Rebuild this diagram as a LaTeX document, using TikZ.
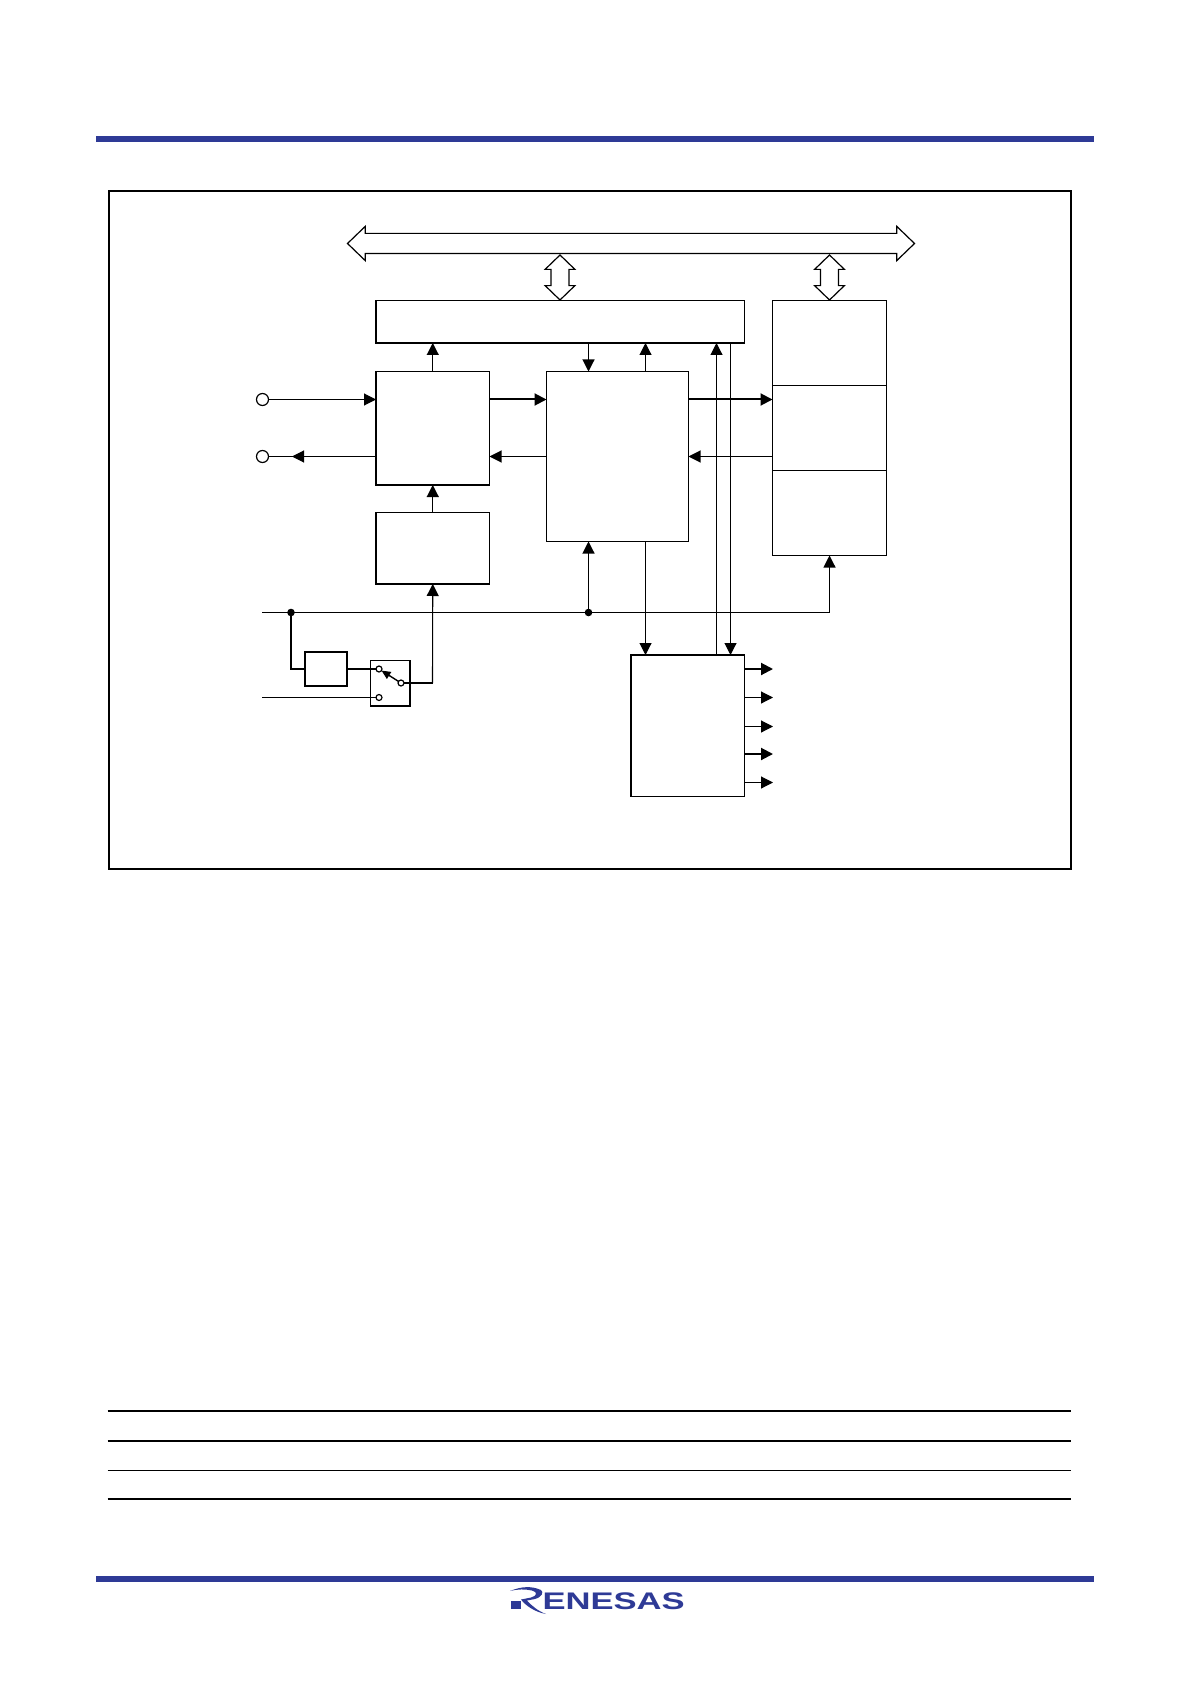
\documentclass[tikz,border=0pt]{standalone}
\usepackage{fontspec}
\setmainfont{Liberation Sans}
\usetikzlibrary{arrows.meta,shapes.arrows}
\definecolor{bandblue}{HTML}{2E3A96}
\tikzset{
  main/.style = {draw, rectangle, inner sep=0pt, outer sep=0pt, anchor=north west, line width=0.6pt},
  arr/.style = {-{Triangle[length=6pt,width=6pt]}, line width=0.55pt},
  heavy/.style = {line width=1pt},
  wire/.style = {line width=0.55pt},
  pin/.style = {draw, circle, fill=white, inner sep=0pt, outer sep=0pt, minimum size=6pt, line width=0.6pt},
  contact/.style = {draw, circle, fill=white, inner sep=0pt, outer sep=0pt, minimum size=3pt, line width=0.6pt},
  dot/.style = {fill=black, circle, inner sep=0pt, outer sep=0pt, minimum size=3.8pt},
  bus/.style = {draw, double arrow, inner xsep=0pt, inner ysep=4.75pt, outer sep=0pt, minimum height=283.5pt, double arrow head extend=3.5pt, double arrow tip angle=88, line width=0.6pt},
  port/.style = {draw, double arrow, inner xsep=0pt, inner ysep=4.2pt, outer sep=0pt, minimum height=22.5pt, double arrow head extend=2.95pt, double arrow tip angle=92, line width=0.6pt},
  band/.style = {fill=bandblue, rectangle, inner sep=0pt, minimum width=499pt, minimum height=3pt},
  rule/.style = {line width=0.9pt}
}
\begin{document}
\begin{tikzpicture}[x=0.5pt, y=-0.5pt]
\useasboundingbox (0,0) rectangle (1190,1684);

% page furniture
\node[band] (10) at (595,139) {};
\node[band] (11) at (595,1579) {};
\node[main, line width=1pt, minimum width=480.75pt, minimum height=339pt] (12) at (109,191) {};
\draw[rule] (107.5,1411) -- (1071,1411);
\draw[rule] (107.5,1441) -- (1071,1441);
\draw[wire] (107.5,1470.5) -- (1071,1470.5);
\draw[rule] (107.5,1499) -- (1071,1499);

% blocks
\node[main, minimum width=184.25pt, minimum height=21.25pt] (1) at (376,300.5) {};
\node[main, minimum width=56.75pt, minimum height=56.75pt] (2) at (376,371.5) {};
\node[main, minimum width=71pt, minimum height=85pt] (3) at (546.5,371.5) {};
\node[main, minimum width=57pt, minimum height=42.5pt] (4) at (772.5,300.5) {};
\node[main, minimum width=57pt, minimum height=42.5pt] (5) at (772.5,385.5) {};
\node[main, minimum width=57pt, minimum height=42.5pt] (6) at (772.5,470.5) {};
\node[main, minimum width=56.75pt, minimum height=35.75pt] (7) at (376,512.5) {};
\node[main, minimum width=56.75pt, minimum height=70.75pt] (8) at (631,655) {};
\node[main, minimum width=21pt, minimum height=17pt] (9) at (305,652) {};
\node[main, minimum width=19.75pt, minimum height=22.75pt] (13) at (370.5,660.5) {};

% buses
\node[bus] (14) at (631,243.5) {};
\node[port, rotate=90] (15) at (560,277.5) {};
\node[port, rotate=90] (16) at (829.5,277.5) {};

% pins and joints
\node[pin] (17) at (262.5,399.5) {};
\node[pin] (18) at (262.5,456.5) {};
\node[dot] (19) at (291,612.5) {};
\node[dot] (20) at (588.5,612.5) {};
\node[contact] (21) at (379,669) {};
\node[contact] (22) at (379,697.5) {};
\node[contact] (23) at (401,683) {};
\coordinate (24) at (262,612.5);
\coordinate (25) at (262,697.5);
\coordinate (26) at (292,456.5);
\coordinate (27) at (645.5,0);
\coordinate (28) at (716.5,0);
\coordinate (29) at (730.5,0);
\coordinate (30) at (432.5,683);

% signals
\draw[arr] (17) -- (2.west |- 17);
\draw[wire] (2.west |- 18) -- (18);
\draw[arr] (2.west |- 18) -- (26);
\draw[arr, heavy] (2.east |- 17) -- (3.west |- 17);
\draw[arr] (3.west |- 18) -- (2.east |- 18);
\draw[arr, heavy] (3.east |- 17) -- (5.west |- 17);
\draw[arr] (5.west |- 18) -- (3.east |- 18);
\draw[arr] (2.north) -- (2.north |- 1.south);
\draw[arr] (7.north) -- (2.south);
\draw[arr] (20 |- 1.south) -- (20 |- 3.north);
\draw[arr] (27 |- 3.north) -- (27 |- 1.south);
\draw[arr] (27 |- 3.south) -- (27 |- 8.north);
\draw[arr] (20) -- (20 |- 3.south);
\draw[arr] (28 |- 8.north) -- (28 |- 1.south);
\draw[arr] (29 |- 1.south) -- (29 |- 8.north);

% clock
\draw[arr] (24) -- (6.south |- 24) -- (6.south);
\draw[heavy] (19) |- (9.west);
\draw[heavy] (9.east) -- (21);
\draw[wire] (25) -- (22);
\draw[{Triangle[length=4.5pt,width=4pt]}-, line width=0.7pt] (21) -- (23);
\draw[heavy] (23) -- (30);
\draw[arr] (30) -- (7.south);

% outputs
\foreach \i/\ypos/\lw in {31/669/1pt, 32/697.5/0.55pt, 33/726.5/0.55pt, 34/754/1pt, 35/782.5/0.55pt} {
  \coordinate (\i) at (773,\ypos);
  \draw[arr, line width=\lw] (8.east |- \i) -- (\i);
}

% logo
\fill[bandblue] (511,1601) rectangle (521,1609);
\fill[bandblue] (510,1591) .. controls (522,1586) and (532,1586) .. (541,1590) .. controls (544,1592) and (542,1597) .. (535,1599) -- (527,1600.5) .. controls (532,1606) and (538,1611) .. (546,1614) .. controls (535,1612) and (526,1606) .. (521,1599.5) -- (531,1597.5) .. controls (537,1596) and (538,1592) .. (532,1590.5) .. controls (525,1589) and (518,1589) .. (510,1591) -- cycle;
\node[inner sep=0pt, anchor=base west, text=bandblue, font=\bfseries\fontsize{12}{12}\selectfont, xscale=1.44] (36) at (542,1609) {ENESAS};
\end{tikzpicture}
\end{document}
